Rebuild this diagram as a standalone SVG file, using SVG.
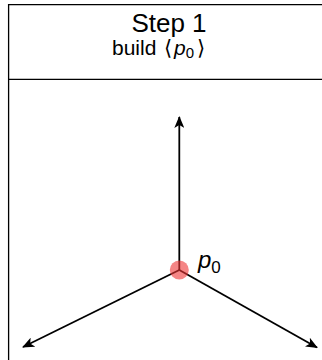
<svg xmlns="http://www.w3.org/2000/svg" width="322" height="360" viewBox="0 0 322 360">
<style>
.frame{stroke:#000;stroke-width:1.3;fill:none}
.edge{stroke:#000;stroke-width:1.8;fill:none}
.t{font-family:"Liberation Sans","DejaVu Sans",sans-serif;fill:#000}
</style>
<defs>
<marker id="ah" viewBox="0 0 12 10" refX="11" refY="5" markerWidth="12" markerHeight="10" markerUnits="userSpaceOnUse" orient="auto">
<path d="M0,0 L12,5 L0,10 L3,5 Z" fill="#000"/>
</marker>
</defs>
<g id="frame">
<line class="frame" x1="8.6" y1="4.6" x2="322" y2="4.6"/>
<line class="frame" x1="8.6" y1="4" x2="8.6" y2="360"/>
<line class="frame" x1="8.6" y1="79.4" x2="322" y2="79.4"/>
</g>
<g id="header">
<text class="t" x="169" y="32" font-size="26" text-anchor="middle">Step 1</text>
<text class="t" font-size="21" y="55"><tspan x="112">build</tspan><tspan x="164">⟨</tspan><tspan x="174" font-style="italic">p</tspan><tspan font-size="15" dy="3">0</tspan><tspan dy="-3" x="197">⟩</tspan></text>
</g>
<g id="connectors">
<line class="edge" x1="179.3" y1="270" x2="179.3" y2="117" marker-end="url(#ah)"/>
<line class="edge" x1="179.3" y1="270" x2="23" y2="347" marker-end="url(#ah)"/>
<line class="edge" x1="179.3" y1="270" x2="317" y2="347.5" marker-end="url(#ah)"/>
</g>
<g id="p0">
<circle cx="179.3" cy="270" r="9.5" fill="#ee3333" fill-opacity="0.6"/>
<text class="t" x="198" y="268" font-size="24" font-style="italic">p<tspan font-style="normal" font-size="17" dy="5">0</tspan></text>
</g>
</svg>
